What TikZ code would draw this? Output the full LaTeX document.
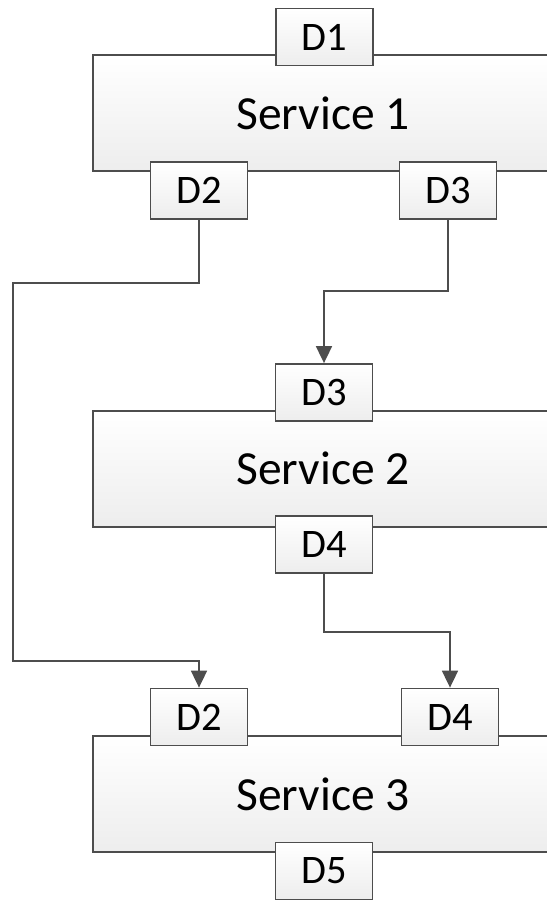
\documentclass[tikz,border=0pt]{standalone}
\usepackage{fontspec}
\setmainfont{Carlito}
\usetikzlibrary{arrows.meta}
\definecolor{edge}{HTML}{4D4D4D}
\begin{document}
\begin{tikzpicture}[x=1pt,y=-1pt,
  servicebox/.style={draw=edge, line width=1.8pt, top color=white, bottom color=gray!14,
    minimum width=460pt, minimum height=116pt, inner sep=0pt,
    font=\fontsize{47.5}{52}\selectfont},
  databox/.style={draw=edge, line width=1.8pt, top color=white, bottom color=gray!14,
    minimum width=97pt, minimum height=57pt, inner sep=0pt,
    font=\fontsize{40.5}{44}\selectfont},
  flow/.style={draw=edge, line width=1.8pt, line join=miter,
    -{Triangle[width=16pt,length=17pt]}}]
\useasboundingbox (0,0) rectangle (546,901);
\fill[white] (0,0) rectangle (546,901);

% services
\node[servicebox] (s1) at (323,113) {Service 1};
\node[servicebox] (s2) at (323,468.7) {Service 2};
\node[servicebox] (s3) at (323,794) {Service 3};

% data ports
\node[databox] (s1d1) at (324.5,37) {D1};
\node[databox] (s1d2) at (199,190.7) {D2};
\node[databox] (s1d3) at (448,190.7) {D3};
\node[databox] (s2d3) at (324,392.5) {D3};
\node[databox] (s2d4) at (324,544.7) {D4};
\node[databox] (s3d2) at (199,717) {D2};
\node[databox] (s3d4) at (450,717) {D4};
\node[databox] (s3d5) at (324,871) {D5};

% bends of the connectors
\coordinate (a1) at (199,282.7);
\coordinate (a2) at (13,282.7);
\coordinate (a3) at (13,660.7);
\coordinate (a4) at (199,660.7);
\coordinate (b1) at (448,290.7);
\coordinate (b2) at (324,290.7);
\coordinate (c1) at (324,632);
\coordinate (c2) at (450,632);

\draw[flow] (s1d2.south) -- (a1) -- (a2) -- (a3) -- (a4) -- (s3d2.north);
\draw[flow] (s1d3.south) -- (b1) -- (b2) -- (s2d3.north);
\draw[flow] (s2d4.south) -- (c1) -- (c2) -- (s3d4.north);
\end{tikzpicture}
\end{document}
